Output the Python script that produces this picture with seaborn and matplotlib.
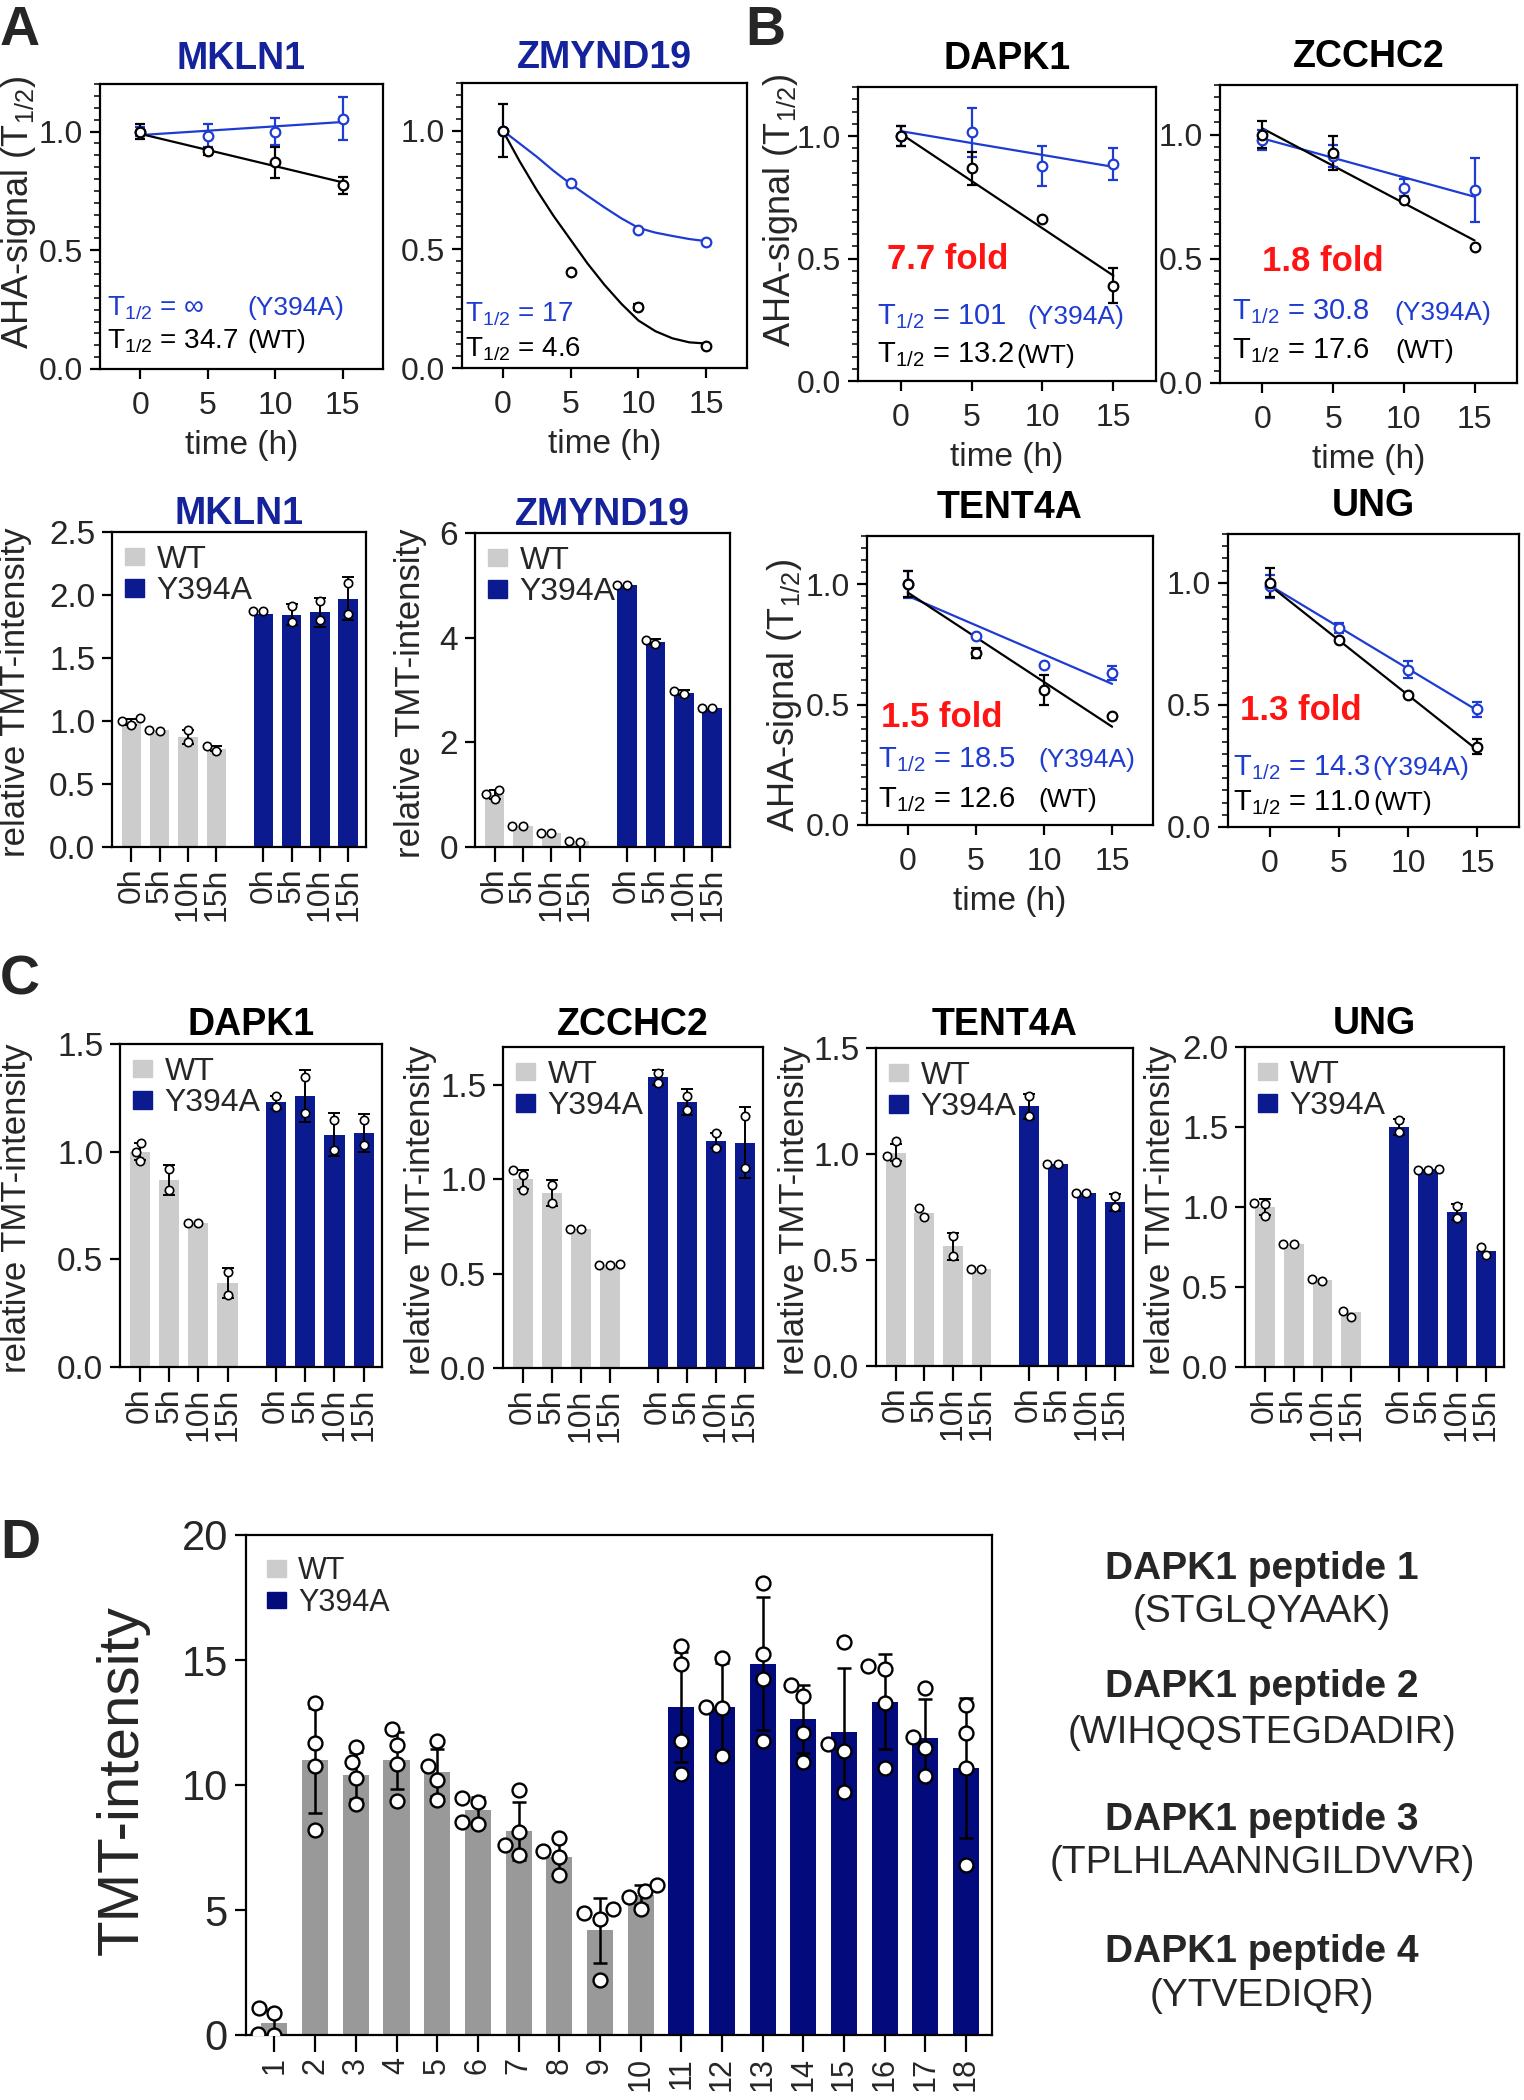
import numpy as np
import pandas as pd
import matplotlib
matplotlib.use("Agg")
import matplotlib.pyplot as plt
from matplotlib.patches import Patch
from matplotlib.ticker import MultipleLocator
import seaborn as sns
import warnings
warnings.filterwarnings("ignore")

# ======================= DATA =======================
# --- AHA-signal time courses (panels A top, B) ---
time_h = [0, 5, 10, 15]
fit_t = [0, 15]
curve_t = [0, 1.25, 2.5, 3.75, 5, 6.25, 7.5, 8.75, 10, 11.25, 12.5, 13.75, 15]

mkln1_wt = [1.00, 0.917, 0.871, 0.773]
mkln1_wt_sd = [0.03, 0.015, 0.065, 0.035]
mkln1_mut = [1.00, 0.983, 1.00, 1.054]
mkln1_mut_sd = [0.02, 0.05, 0.055, 0.09]
mkln1_wt_fit = [0.99, 0.786]
mkln1_mut_fit = [0.985, 1.04]

zmynd19_wt = [1.00, 0.405, 0.257, 0.093]
zmynd19_wt_sd = [0.11, 0.0, 0.012, 0.0]
zmynd19_mut = [1.00, 0.78, 0.582, 0.53]
zmynd19_mut_sd = [0.0, 0.0, 0.0, 0.0]
zmynd19_wt_curve = [1.0, 0.87, 0.75, 0.64, 0.54, 0.44, 0.35, 0.27, 0.20, 0.155, 0.125, 0.108, 0.103]
zmynd19_mut_curve = [1.0, 0.945, 0.89, 0.83, 0.775, 0.725, 0.676, 0.63, 0.59, 0.57, 0.556, 0.543, 0.534]

dapk1_wt = [1.00, 0.869, 0.663, 0.389]
dapk1_wt_sd = [0.04, 0.067, 0.0, 0.072]
dapk1_mut = [1.00, 1.016, 0.878, 0.884]
dapk1_mut_sd = [0.04, 0.10, 0.083, 0.065]
dapk1_wt_fit = [1.01, 0.43]
dapk1_mut_fit = [1.02, 0.874]

zcchc2_wt = [1.00, 0.926, 0.738, 0.548]
zcchc2_wt_sd = [0.054, 0.067, 0.0, 0.0]
zcchc2_mut = [0.98, 0.913, 0.786, 0.778]
zcchc2_mut_sd = [0.04, 0.045, 0.034, 0.129]
zcchc2_wt_fit = [1.025, 0.574]
zcchc2_mut_fit = [0.985, 0.75]

tent4a_wt = [1.00, 0.714, 0.561, 0.453]
tent4a_wt_sd = [0.055, 0.02, 0.063, 0.0]
tent4a_mut = [1.00, 0.784, 0.666, 0.631]
tent4a_mut_sd = [0.056, 0.0, 0.0, 0.03]
tent4a_wt_fit = [0.965, 0.408]
tent4a_mut_fit = [0.951, 0.586]

ung_wt = [1.00, 0.764, 0.541, 0.329]
ung_wt_sd = [0.06, 0.0, 0.0, 0.03]
ung_mut = [0.986, 0.815, 0.644, 0.482]
ung_mut_sd = [0.048, 0.02, 0.034, 0.03]
ung_wt_fit = [0.99, 0.315]
ung_mut_fit = [0.99, 0.477]

# --- relative TMT-intensity bars (panels A bottom, C) ---
tmt_times = ["0h", "5h", "10h", "15h"]

mkln1_tmt_wt = [0.99, 0.925, 0.875, 0.78]
mkln1_tmt_wt_sd = [0.025, 0.0, 0.055, 0.02]
mkln1_tmt_wt_pts = [[0.97, 1.00, 1.02], [0.92, 0.93], [0.83, 0.93], [0.76, 0.80]]
mkln1_tmt_mut = [1.85, 1.845, 1.865, 1.97]
mkln1_tmt_mut_sd = [0.0, 0.085, 0.115, 0.17]
mkln1_tmt_mut_pts = [[1.87, 1.87], [1.785, 1.91], [1.80, 1.95], [1.85, 2.095]]

zmynd19_tmt_wt = [1.0, 0.41, 0.27, 0.11]
zmynd19_tmt_wt_sd = [0.09, 0.0, 0.0, 0.0]
zmynd19_tmt_wt_pts = [[0.91, 1.02, 1.08], [0.40, 0.41], [0.26, 0.27], [0.10, 0.11]]
zmynd19_tmt_mut = [5.0, 3.92, 2.95, 2.65]
zmynd19_tmt_mut_sd = [0.0, 0.05, 0.05, 0.0]
zmynd19_tmt_mut_pts = [[5.0, 5.0], [3.88, 3.95], [2.92, 2.98], [2.65, 2.65]]

dapk1_tmt_wt = [1.0, 0.867, 0.667, 0.389]
dapk1_tmt_wt_sd = [0.04, 0.07, 0.0, 0.07]
dapk1_tmt_wt_pts = [[0.957, 1.0, 1.04], [0.824, 0.92], [0.667, 0.667], [0.335, 0.443]]
dapk1_tmt_mut = [1.23, 1.26, 1.079, 1.086]
dapk1_tmt_mut_sd = [0.03, 0.12, 0.10, 0.087]
dapk1_tmt_mut_pts = [[1.207, 1.26], [1.179, 1.349], [1.009, 1.148], [1.03, 1.148]]

zcchc2_tmt_wt = [1.0, 0.926, 0.735, 0.547]
zcchc2_tmt_wt_sd = [0.05, 0.07, 0.0, 0.0]
zcchc2_tmt_wt_pts = [[0.944, 1.023, 1.046], [0.873, 0.97], [0.735, 0.735], [0.545, 0.547, 0.55]]
zcchc2_tmt_mut = [1.54, 1.41, 1.203, 1.194]
zcchc2_tmt_mut_sd = [0.04, 0.07, 0.04, 0.19]
zcchc2_tmt_mut_pts = [[1.508, 1.564], [1.367, 1.441], [1.164, 1.243], [1.058, 1.335]]

tent4a_tmt_wt = [1.005, 0.721, 0.564, 0.457]
tent4a_tmt_wt_sd = [0.04, 0.0, 0.065, 0.0]
tent4a_tmt_wt_pts = [[0.96, 0.989, 1.06], [0.705, 0.745], [0.52, 0.611], [0.457, 0.457]]
tent4a_tmt_mut = [1.225, 0.954, 0.816, 0.772]
tent4a_tmt_mut_sd = [0.06, 0.0, 0.0, 0.04]
tent4a_tmt_mut_pts = [[1.181, 1.272], [0.954, 0.954], [0.816, 0.816], [0.75, 0.803]]

ung_tmt_wt = [1.003, 0.767, 0.543, 0.343]
ung_tmt_wt_sd = [0.05, 0.0, 0.0, 0.0]
ung_tmt_wt_pts = [[0.945, 1.018, 1.024], [0.767, 0.767], [0.537, 0.548], [0.313, 0.349]]
ung_tmt_mut = [1.498, 1.237, 0.966, 0.725]
ung_tmt_mut_sd = [0.05, 0.0, 0.05, 0.0]
ung_tmt_mut_pts = [[1.467, 1.544], [1.23, 1.23, 1.235], [0.934, 1.007], [0.698, 0.752]]

# --- DAPK1 peptides (panel D) ---
d_labels = [str(i) for i in range(1, 19)]
d_wt_mean = [0.47, 10.99, 10.39, 10.99, 10.51, 9.01, 8.17, 7.11, 4.19, 5.61]
d_wt_sd = [0.55, 2.1, 0.95, 1.15, 0.95, 0.5, 1.15, 0.7, 1.3, 0.4]
d_wt_pts = [[0.0, 0.05, 0.87, 1.1], [8.22, 10.75, 11.7, 13.28], [9.25, 10.28, 10.91, 11.54],
            [9.38, 10.86, 11.62, 12.25], [9.41, 10.2, 10.75, 11.78], [8.46, 8.54, 9.33, 9.49],
            [7.19, 7.59, 8.14, 9.8], [6.4, 7.11, 7.35, 7.9], [2.21, 4.66, 4.9, 5.06],
            [5.06, 5.53, 5.77, 6.0]]
d_mut_mean = [13.12, 13.12, 14.86, 12.65, 12.13, 13.33, 11.9, 10.7]
d_mut_sd = [2.2, 1.75, 2.65, 1.35, 2.55, 1.9, 1.55, 2.8]
d_mut_pts = [[10.43, 11.78, 14.86, 15.57], [11.15, 13.07, 13.12, 15.1], [11.75, 14.23, 15.26, 18.07],
             [10.91, 12.09, 13.55, 13.99], [9.72, 11.38, 11.65, 15.73], [10.67, 13.28, 14.66, 14.75],
             [10.36, 11.49, 11.94, 13.87], [6.8, 10.67, 12.09, 13.2]]

pep_titles = ["DAPK1 peptide 1", "DAPK1 peptide 2", "DAPK1 peptide 3", "DAPK1 peptide 4"]
pep_seqs = ["(STGLQYAAK)", "(WIHQQSTEGDADIR)", "(TPLHLAANNGILDVVR)", "(YTVEDIQR)"]

# ======================= STYLE =======================
sns.set_style("ticks")
FONT = ["Liberation Sans", "DejaVu Sans"]
plt.rcParams["font.family"] = FONT
plt.rcParams["mathtext.fontset"] = "custom"
plt.rcParams["mathtext.rm"] = "Liberation Sans"
plt.rcParams["mathtext.it"] = "Liberation Sans:italic"
plt.rcParams["mathtext.bf"] = "Liberation Sans:bold"

BLUE = "#1f3cd2"
NAVY = "#0b1a8f"
NAVY_D = "#020a7c"
GREY = "#cccccc"
GREY_D = "#999999"
TITLE_BLUE = "#14239b"
RED = "#ff1414"

W, H = 1524.0, 2100.0
fig = plt.figure(figsize=(15.24, 21.0), dpi=100)


def add_ax(x0, y0, x1, y1):
    return fig.add_axes([x0 / W, 1 - y1 / H, (x1 - x0) / W, (y1 - y0) / H])


def style(ax, labelsize=22, length=7, pad=5):
    ax.tick_params(axis="both", which="major", direction="out", length=length, width=1.6,
                   labelsize=labelsize, pad=pad, color="black")
    for s in ax.spines.values():
        s.set_linewidth(1.6)
        s.set_color("black")
        s.set_visible(True)


def errbars(ax, x, y, sd, color, lw, cap):
    idx = [i for i, s in enumerate(sd) if s > 0]
    if idx:
        ax.errorbar([x[i] for i in idx], [y[i] for i in idx], yerr=[sd[i] for i in idx],
                    fmt="none", ecolor=color, elinewidth=lw, capsize=cap, capthick=lw, zorder=3)


def time_course(ax, wt, wt_sd, mut, mut_sd, fx, fy_mut, fy_wt, title, tcolor, pad, xlabel=True):
    sns.lineplot(x=fx, y=fy_mut, color=BLUE, linewidth=1.6, ax=ax, zorder=2)
    sns.lineplot(x=fx, y=fy_wt, color="black", linewidth=1.6, ax=ax, zorder=2)
    errbars(ax, time_h, mut, mut_sd, BLUE, 1.6, 3.5)
    errbars(ax, time_h, wt, wt_sd, "black", 1.6, 3.5)
    sns.scatterplot(x=time_h, y=mut, color="white", edgecolor=BLUE, linewidth=1.6, s=48, ax=ax, zorder=4)
    sns.scatterplot(x=time_h, y=wt, color="white", edgecolor="black", linewidth=1.6, s=48, ax=ax, zorder=5)
    ax.set_xlim(-3, 18)
    ax.set_ylim(0, 1.2)
    ax.set_xticks([0, 5, 10, 15])
    ax.set_yticks([0, 0.5, 1.0])
    ax.yaxis.set_minor_locator(MultipleLocator(0.05))
    style(ax, labelsize=23, length=7)
    ax.tick_params(axis="x", pad=9)
    ax.tick_params(axis="y", which="minor", length=4, width=1.3)
    ax.set_title(title, fontsize=27, fontweight="bold", color=tcolor, pad=pad)
    if xlabel:
        ax.set_xlabel("time (h)", fontsize=24, labelpad=6)
    else:
        ax.set_xlabel("")
    ax.set_ylabel("")


def half_life(ax, yb_mut, yb_wt, mut_val, wt_val, xp_mut, xp_wt, x0, size=21, psize=19):
    tr = ax.get_yaxis_transform()
    ax.text(x0, yb_mut, "T$_{1/2}$ = " + mut_val, transform=tr, color=BLUE, fontsize=size,
            va="baseline", ha="left")
    ax.text(x0, yb_wt, "T$_{1/2}$ = " + wt_val, transform=tr, color="black", fontsize=size,
            va="baseline", ha="left")
    if xp_mut is not None:
        ax.text(xp_mut, yb_mut, "(Y394A)", transform=tr, color=BLUE, fontsize=psize,
                va="baseline", ha="left")
    if xp_wt is not None:
        ax.text(xp_wt, yb_wt, "(WT)", transform=tr, color="black", fontsize=psize,
                va="baseline", ha="left")


def fold(ax, x, yb, txt):
    ax.text(x, yb, txt, transform=ax.get_yaxis_transform(), color=RED, fontsize=25,
            fontweight="bold", va="baseline", ha="left")


BAR_POS = [0, 1, 2, 3, 4.67, 5.67, 6.67, 7.67]


def tmt_bars(ax, wt, wt_sd, wt_pts, mut, mut_sd, mut_pts, ymax, ystep, title, tcolor, pad):
    heights = wt + mut
    df = pd.DataFrame({"pos": BAR_POS, "val": heights, "grp": ["WT"] * 4 + ["Y394A"] * 4})
    sns.barplot(data=df, x="pos", y="val", hue="grp", palette={"WT": GREY, "Y394A": NAVY},
                native_scale=True, dodge=False, errorbar=None, width=0.69, linewidth=0,
                saturation=1, legend=False, ax=ax)
    errbars(ax, BAR_POS, heights, wt_sd + mut_sd, "black", 1.4, 4)
    rows = [(p, v) for p, pts in zip(BAR_POS, wt_pts + mut_pts) for v in pts]
    pdf = pd.DataFrame(rows, columns=["pos", "val"])
    sns.swarmplot(data=pdf, x="pos", y="val", native_scale=True, color="white", edgecolor="black",
                  linewidth=1.2, size=6, ax=ax, zorder=5)
    ax.set_xlim(-0.69, 8.3)
    ax.set_ylim(0, ymax)
    ax.set_yticks(np.arange(0, ymax + 1e-9, ystep))
    ax.set_xticks(BAR_POS)
    ax.set_xticklabels(tmt_times + tmt_times, rotation=90)
    style(ax, labelsize=24, length=7)
    ax.tick_params(axis="x", length=11, labelsize=23, pad=4)
    ax.set_xlabel("")
    ax.set_ylabel("relative TMT-intensity", fontsize=25)
    ax.set_title(title, fontsize=27, fontweight="bold", color=tcolor, pad=pad)
    handles = [Patch(color=GREY, label="WT"), Patch(color=NAVY, label="Y394A")]
    ax.legend(handles=handles, loc="upper left", frameon=False, prop={"size": 23},
              handlelength=0.6, handleheight=0.45, handletextpad=0.4, labelspacing=0.05,
              borderaxespad=0.2, borderpad=0.2)


# ======================= PANEL A (top) =======================
ax = add_ax(100, 84, 383, 369)
time_course(ax, mkln1_wt, mkln1_wt_sd, mkln1_mut, mkln1_mut_sd, fit_t, mkln1_mut_fit, mkln1_wt_fit,
            "MKLN1", TITLE_BLUE, 11)
half_life(ax, 0.227, 0.088, "\u221e", "34.7", 0.52, 0.52, x0=0.025, size=20)
ax.set_ylabel("AHA-signal (T$_{1/2}$)", fontsize=26)
ax.yaxis.set_label_coords(-0.22, 0.55)

ax = add_ax(462, 83, 747, 368)
time_course(ax, zmynd19_wt, zmynd19_wt_sd, zmynd19_mut, zmynd19_mut_sd, curve_t, zmynd19_mut_curve,
            zmynd19_wt_curve, "ZMYND19", TITLE_BLUE, 11)
half_life(ax, 0.197, 0.049, "17", "4.6", None, None, x0=0.012, size=20)

# ======================= PANEL B =======================
ax = add_ax(858, 87, 1156, 381)
time_course(ax, dapk1_wt, dapk1_wt_sd, dapk1_mut, dapk1_mut_sd, fit_t, dapk1_mut_fit, dapk1_wt_fit,
            "DAPK1", "black", 13)
fold(ax, 0.097, 0.457, "7.7 fold")
half_life(ax, 0.232, 0.075, "101", "13.2", 0.57, 0.53, x0=0.064)
ax.set_ylabel("AHA-signal (T$_{1/2}$)", fontsize=26)
ax.yaxis.set_label_coords(-0.195, 0.58)

ax = add_ax(1220, 85, 1517, 383)
time_course(ax, zcchc2_wt, zcchc2_wt_sd, zcchc2_mut, zcchc2_mut_sd, fit_t, zcchc2_mut_fit, zcchc2_wt_fit,
            "ZCCHC2", "black", 13)
fold(ax, 0.14, 0.45, "1.8 fold")
half_life(ax, 0.255, 0.10, "30.8", "17.6", 0.586, 0.59, x0=0.04)

ax = add_ax(867, 536, 1153, 825)
time_course(ax, tent4a_wt, tent4a_wt_sd, tent4a_mut, tent4a_mut_sd, fit_t, tent4a_mut_fit, tent4a_wt_fit,
            "TENT4A", "black", 13)
fold(ax, 0.05, 0.408, "1.5 fold")
half_life(ax, 0.241, 0.074, "18.5", "12.6", 0.60, 0.60, x0=0.04)
ax.set_ylabel("AHA-signal (T$_{1/2}$)", fontsize=26)
ax.yaxis.set_label_coords(-0.22, 0.45)

ax = add_ax(1228, 534, 1519, 827)
time_course(ax, ung_wt, ung_wt_sd, ung_mut, ung_mut_sd, fit_t, ung_mut_fit, ung_wt_fit,
            "UNG", "black", 13, xlabel=False)
fold(ax, 0.04, 0.438, "1.3 fold")
half_life(ax, 0.212, 0.068, "14.3", "11.0", 0.495, 0.50, x0=0.017)

# ======================= PANEL A (bottom) =======================
ax = add_ax(112, 532, 366, 847)
tmt_bars(ax, mkln1_tmt_wt, mkln1_tmt_wt_sd, mkln1_tmt_wt_pts, mkln1_tmt_mut, mkln1_tmt_mut_sd,
         mkln1_tmt_mut_pts, 2.5, 0.5, "MKLN1", TITLE_BLUE, 5)
ax.yaxis.set_label_coords(-0.315, 0.49)

ax = add_ax(475, 533, 730, 847)
tmt_bars(ax, zmynd19_tmt_wt, zmynd19_tmt_wt_sd, zmynd19_tmt_wt_pts, zmynd19_tmt_mut, zmynd19_tmt_mut_sd,
         zmynd19_tmt_mut_pts, 6, 2, "ZMYND19", TITLE_BLUE, 5)
ax.yaxis.set_label_coords(-0.19, 0.49)

# ======================= PANEL C =======================
ax = add_ax(120, 1044, 382, 1367)
tmt_bars(ax, dapk1_tmt_wt, dapk1_tmt_wt_sd, dapk1_tmt_wt_pts, dapk1_tmt_mut, dapk1_tmt_mut_sd,
         dapk1_tmt_mut_pts, 1.5, 0.5, "DAPK1", "black", 6.5)
ax.yaxis.set_label_coords(-0.332, 0.49)

ax = add_ax(503, 1047, 763, 1368)
tmt_bars(ax, zcchc2_tmt_wt, zcchc2_tmt_wt_sd, zcchc2_tmt_wt_pts, zcchc2_tmt_mut, zcchc2_tmt_mut_sd,
         zcchc2_tmt_mut_pts, 1.7, 0.5, "ZCCHC2", "black", 9)
ax.set_yticks([0, 0.5, 1.0, 1.5])
ax.yaxis.set_label_coords(-0.254, 0.49)

ax = add_ax(876, 1048, 1133, 1366)
tmt_bars(ax, tent4a_tmt_wt, tent4a_tmt_wt_sd, tent4a_tmt_wt_pts, tent4a_tmt_mut, tent4a_tmt_mut_sd,
         tent4a_tmt_mut_pts, 1.5, 0.5, "TENT4A", "black", 9)
ax.yaxis.set_label_coords(-0.253, 0.49)

ax = add_ax(1245, 1047, 1504, 1367)
tmt_bars(ax, ung_tmt_wt, ung_tmt_wt_sd, ung_tmt_wt_pts, ung_tmt_mut, ung_tmt_mut_sd,
         ung_tmt_mut_pts, 2.0, 0.5, "UNG", "black", 9)
ax.yaxis.set_label_coords(-0.263, 0.49)

# ======================= PANEL D =======================
ax = add_ax(246, 1535, 992, 2035)
d_pos = [float(l) for l in d_labels]
d_heights = d_wt_mean + d_mut_mean
ddf = pd.DataFrame({"pos": d_pos, "val": d_heights,
                    "grp": ["WT"] * len(d_wt_mean) + ["Y394A"] * len(d_mut_mean)})
sns.barplot(data=ddf, x="pos", y="val", hue="grp", palette={"WT": GREY_D, "Y394A": NAVY_D},
            native_scale=True, dodge=False, errorbar=None, width=0.64, linewidth=0,
            saturation=1, legend=False, ax=ax)
errbars(ax, d_pos, d_heights, d_wt_sd + d_mut_sd, "black", 1.8, 5)
drows = [(p, v) for p, pts in zip(d_pos, d_wt_pts + d_mut_pts) for v in pts]
dpdf = pd.DataFrame(drows, columns=["pos", "val"])
sns.swarmplot(data=dpdf, x="pos", y="val", native_scale=True, color="white", edgecolor="black",
              linewidth=1.7, size=10, ax=ax, zorder=5)
ax.set_xlim(0.30, 18.64)
ax.set_ylim(0, 20)
ax.set_yticks([0, 5, 10, 15, 20])
ax.set_xticks(d_pos)
ax.set_xticklabels(d_labels, rotation=90)
style(ax, labelsize=30, length=8)
ax.tick_params(axis="x", length=12, labelsize=22, pad=4)
ax.set_xlabel("")
ax.set_ylabel("TMT-intensity", fontsize=42)
ax.yaxis.set_label_coords(-0.129, 0.51)
handles = [Patch(color=GREY, label="WT"), Patch(color=NAVY_D, label="Y394A")]
ax.legend(handles=handles, loc="upper left", frameon=False, prop={"size": 22},
          handlelength=0.6, handleheight=0.45, handletextpad=0.4, labelspacing=0.05,
          borderaxespad=0.4, borderpad=0.3)

# peptide legend text
title_base = [1579, 1697, 1830, 1962]
seq_base = [1622, 1743, 1873, 2006]
for t, s, ty, sy in zip(pep_titles, pep_seqs, title_base, seq_base):
    fig.text(1262 / W, 1 - ty / H, t, fontsize=28, fontweight="bold", ha="center", va="baseline")
    fig.text(1262 / W, 1 - sy / H, s, fontsize=28, ha="center", va="baseline")

# panel letters
for letter, x, y in [("A", 0, 5), ("B", 745, 5), ("C", 0, 955), ("D", 0, 1518)]:
    fig.text(x / W, 1 - y / H, letter, fontsize=40, fontweight="bold", ha="left", va="top")

fig.savefig("out.png", dpi=100)
